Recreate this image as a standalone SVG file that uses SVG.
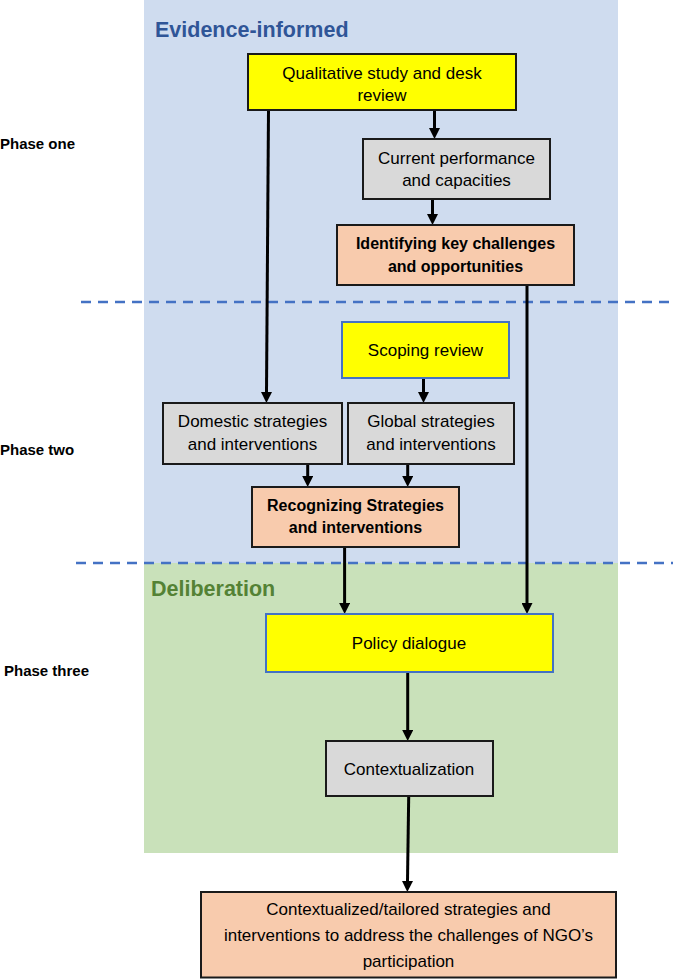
<svg xmlns="http://www.w3.org/2000/svg" width="673" height="979" viewBox="0 0 673 979">
<style>
  .t { font-family: "Liberation Sans", Arial, sans-serif; font-size: 17px; fill: #000; text-anchor: middle; }
  .b { font-family: "Liberation Sans", Arial, sans-serif; font-size: 16px; font-weight: bold; fill: #000; text-anchor: middle; }
  .ph { font-family: "Liberation Sans", Arial, sans-serif; font-size: 15px; font-weight: bold; fill: #000; }
  .zone { font-family: "Liberation Sans", Arial, sans-serif; font-size: 21.5px; font-weight: bold; }
  .yel { fill: #FFFF00; stroke: #1a1a1a; stroke-width: 2; }
  .yelb { fill: #FFFF00; stroke: #4472C4; stroke-width: 2; }
  .gry { fill: #D9D9D9; stroke: #1a1a1a; stroke-width: 2; }
  .org { fill: #F8CBAD; stroke: #1a1a1a; stroke-width: 2; }
  .dash { stroke: #4472C4; stroke-width: 2.5; stroke-dasharray: 10 7; fill: none; }
  .conn line { stroke: #000; stroke-width: 3; marker-end: url(#ah); }
</style>
<defs>
  <marker id="ah" markerUnits="userSpaceOnUse" markerWidth="11" markerHeight="11" refX="0" refY="5.5" orient="auto">
    <path d="M0,0 L11,5.5 L0,11 z" fill="#000"/>
  </marker>
</defs>
<g id="background">
  <rect x="144" y="0" width="474" height="563" fill="#CFDCEF"/>
  <rect x="144" y="563" width="474" height="290" fill="#C9E1BA"/>
  <line class="dash" x1="81" y1="302" x2="673" y2="302"/>
  <line class="dash" x1="76" y1="563" x2="673" y2="563"/>
  <text class="zone" x="155" y="37" fill="#2F5597">Evidence-informed</text>
  <text class="zone" x="151" y="596" fill="#548235">Deliberation</text>
  <text class="ph" x="0" y="149">Phase one</text>
  <text class="ph" x="0" y="455">Phase two</text>
  <text class="ph" x="4" y="676">Phase three</text>
</g>
<g id="connectors" class="conn">
  <line x1="434.5" y1="110" x2="434.5" y2="128"/>
  <line x1="432.5" y1="199" x2="432.5" y2="214"/>
  <line x1="268.5" y1="110" x2="266.5" y2="392"/>
  <line x1="527" y1="285" x2="527" y2="603"/>
  <line x1="423.5" y1="378" x2="423.5" y2="392"/>
  <line x1="307.7" y1="464" x2="307.7" y2="476"/>
  <line x1="407.7" y1="464" x2="407.7" y2="476"/>
  <line x1="344.6" y1="547" x2="344.6" y2="603"/>
  <line x1="407.7" y1="672" x2="407.7" y2="730"/>
  <line x1="408.7" y1="796" x2="407.5" y2="881"/>
</g>
<g id="qualitative">
  <rect class="yel" x="248" y="54" width="268" height="56"/>
  <text class="t" x="382" y="79">Qualitative study and desk</text>
  <text class="t" x="382" y="101">review</text>
</g>
<g id="current">
  <rect class="gry" x="363" y="139" width="187" height="60"/>
  <text class="t" x="456.5" y="164">Current performance</text>
  <text class="t" x="456.5" y="186">and capacities</text>
</g>
<g id="identifying">
  <rect class="org" x="337" y="225" width="237" height="60"/>
  <text class="b" x="455.5" y="249">Identifying key challenges</text>
  <text class="b" x="455.5" y="272">and opportunities</text>
</g>
<g id="scoping">
  <rect class="yelb" x="342" y="322" width="167" height="56"/>
  <text class="t" x="425.5" y="356">Scoping review</text>
</g>
<g id="domestic">
  <rect class="gry" x="163" y="403" width="179" height="61"/>
  <text class="t" x="252.5" y="427">Domestic strategies</text>
  <text class="t" x="252.5" y="450">and interventions</text>
</g>
<g id="global">
  <rect class="gry" x="348" y="403" width="166" height="61"/>
  <text class="t" x="431" y="427">Global strategies</text>
  <text class="t" x="431" y="450">and interventions</text>
</g>
<g id="recognizing">
  <rect class="org" x="252" y="487" width="207" height="60"/>
  <text class="b" x="355.5" y="511">Recognizing Strategies</text>
  <text class="b" x="355.5" y="533">and interventions</text>
</g>
<g id="policy">
  <rect class="yelb" x="266" y="614" width="287" height="58"/>
  <text class="t" x="409" y="649">Policy dialogue</text>
</g>
<g id="contextualization">
  <rect class="gry" x="326" y="741" width="167" height="55"/>
  <text class="t" x="409" y="775">Contextualization</text>
</g>
<g id="final">
  <rect class="org" x="201" y="892" width="415" height="85.5"/>
  <text class="t" x="408.5" y="915">Contextualized/tailored strategies and</text>
  <text class="t" x="408.5" y="941">interventions to address the challenges of NGO’s</text>
  <text class="t" x="408.5" y="967">participation</text>
</g>
</svg>
